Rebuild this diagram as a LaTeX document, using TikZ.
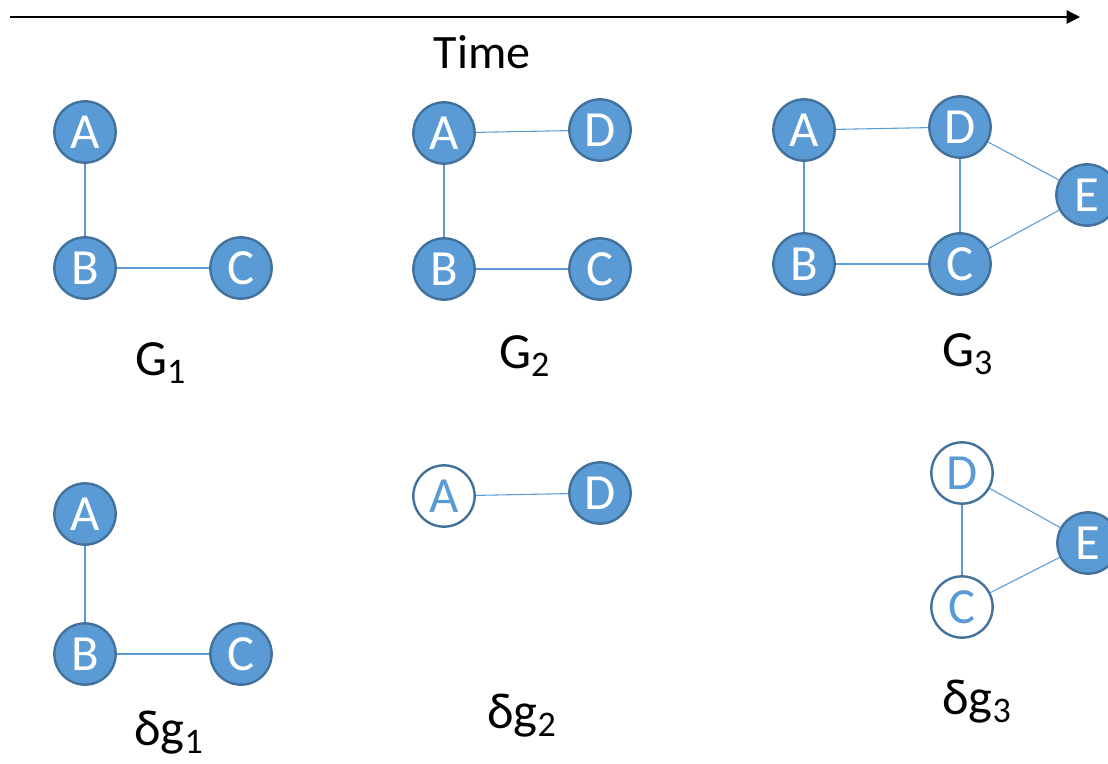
\documentclass[tikz,border=0pt]{standalone}
\usepackage{fontspec}
\setmainfont{Carlito}
\usetikzlibrary{positioning,arrows,arrows.meta}
\definecolor{nodeblue}{HTML}{5B9BD5}
\definecolor{rimblue}{HTML}{41719C}
\newcommand{\lowsub}[1]{\raisebox{-0.17em}{\fontsize{27}{28}\selectfont #1}}

\begin{document}
\begin{tikzpicture}[x=0.75pt,y=-0.75pt]
\useasboundingbox (0,0) rectangle (1108,764);
% Draw time axis
   \coordinate (t0) at (10,17);
   \coordinate (t1) at (1080,17);
   \draw [-{Triangle[length=10pt,width=10pt]},line width=1pt] (t0) -- (t1);
   \node (time) at (482,52) {\fontsize{36}{38}\selectfont Time};
% Draw snapshots and their deltas
   \begin{scope}[ node distance=102pt and 117pt,on grid,
                   comp/.style={circle,draw=rimblue,line width=1.8pt,fill=nodeblue,text=white,
                                minimum size=46pt,inner sep=0pt,font=\fontsize{38}{40}\selectfont},
                   hollow/.style={comp,fill=white,text=nodeblue},
                   link/.style={draw=nodeblue,line width=0.8pt},
                   lbl/.style={anchor=base west,inner sep=0pt,font=\fontsize{38}{40}\selectfont} ]
     % G_1
     \node [comp]  (a1)   at (85,132)        {A};
     \node [comp]  (b1)   [below=of a1]      {B};
     \node [comp]  (c1)   [right=of b1]      {C};
     \draw [link] (a1) -- (b1);
     \draw [link] (b1) -- (c1);
     \node [lbl]   (g1)   at (135,375)       {G\lowsub{1}};
     % G_2
     \node [comp]  (a2)   at (444,133)       {A};
     \node [comp]  (b2)   [below=of a2]      {B};
     \node [comp]  (c2)   [right=of b2]      {C};
     \node [comp]  (d2)   at (600,130)       {D};
     \draw [link] (a2) -- (b2);
     \draw [link] (b2) -- (c2);
     \draw [link] (a2) -- (d2);
     \node [lbl]   (g2)   at (499,368)       {G\lowsub{2}};
     % G_3
     \node [comp]  (a3)   at (804,130)       {A};
     \node [comp]  (b3)   at (804,264)       {B};
     \node [comp]  (c3)   [right=of b3]      {C};
     \node [comp]  (d3)   at (960,127)       {D};
     \node [comp]  (e3)   at (1087,195)      {E};
     \draw [link] (a3) -- (b3);
     \draw [link] (b3) -- (c3);
     \draw [link] (a3) -- (d3);
     \draw [link] (d3) -- (c3);
     \draw [link] (d3) -- (e3);
     \draw [link] (c3) -- (e3);
     \node [lbl]   (g3)   at (942,366)       {G\lowsub{3}};
     % delta g_1
     \node [comp]  (da1)  at (85,514)        {A};
     \node [comp]  (db1)  at (85,654)        {B};
     \node [comp]  (dc1)  [right=of db1]     {C};
     \draw [link] (da1) -- (db1);
     \draw [link] (db1) -- (dc1);
     \node [lbl]   (dg1)  at (134,745)       {δg\lowsub{1}};
     % delta g_2
     \node [hollow] (da2) at (444,496)       {A};
     \node [comp]  (dd2)  at (600,493)       {D};
     \draw [link] (da2) -- (dd2);
     \node [lbl]   (dg2)  at (487,728)       {δg\lowsub{2}};
     % delta g_3
     \node [hollow] (dd3) at (962,473)       {D};
     \node [hollow] (dc3) at (962,607)       {C};
     \node [comp]  (de3)  at (1088,543)      {E};
     \draw [link] (dd3) -- (dc3);
     \draw [link] (dd3) -- (de3);
     \draw [link] (dc3) -- (de3);
     \node [lbl]   (dg3)  at (942,714)       {δg\lowsub{3}};
   \end{scope}
\end{tikzpicture}
\end{document}
